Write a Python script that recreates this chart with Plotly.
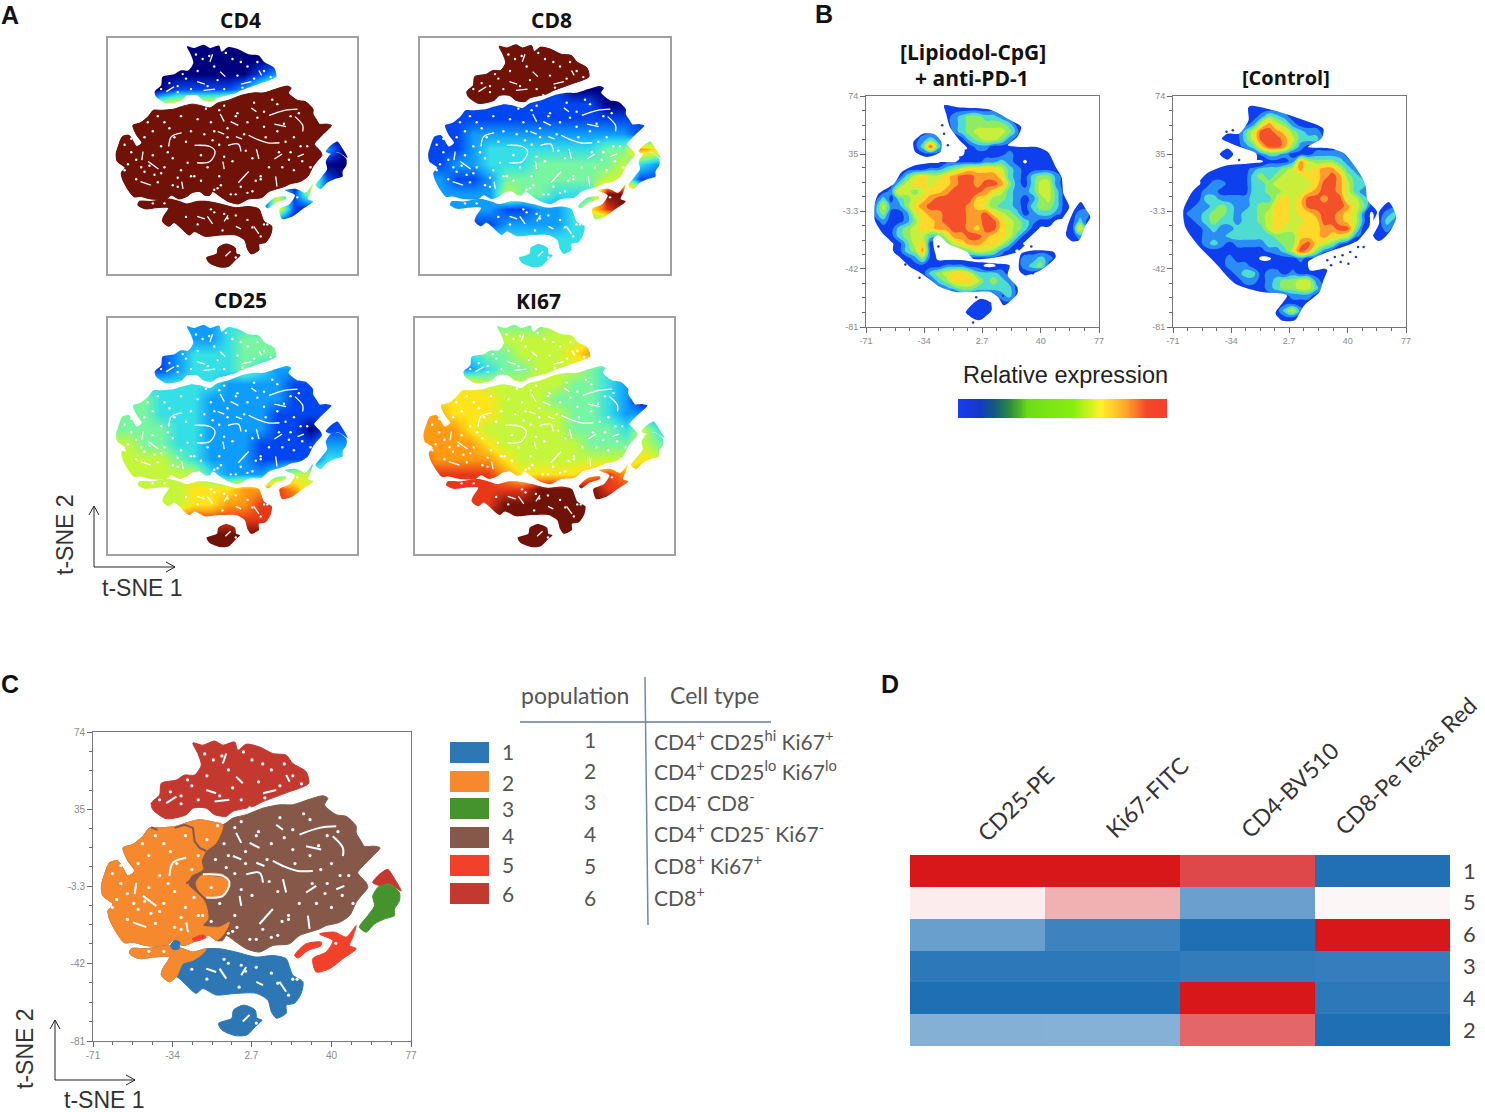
import plotly.graph_objects as go

W, H = 1485, 1112

# ---------- t-SNE cluster outlines (t-SNE 1 / t-SNE 2 units) ----------
top_x = [-24.5,-19.9,-14.4,-10.6,-5.1,-3.6,0.3,6.5,12.7,18.9,22,28.2,29.4,25.1,20.5,14.3,8.1,3.4,-5.9,-9,-14.4,-18.3,-24.5,-27.6,-36.9,-43.1,-43.9,-40,-39.2,-32.2,-28.4,-23.7,-20.6,-22.2]
top_y = [68.5,67.4,69.5,67.4,69,64.9,67.9,66.5,63.2,62.4,58.2,54.1,48.3,45.8,44.1,41.6,39.1,36.6,34.2,31.7,32.5,35.8,35.8,32.5,30.5,35,38.3,42.5,48.3,49.9,52.4,52.4,57.4,63.2]
body_x = [-5.9,0.3,8.1,15.8,22,29,36,38.3,36.7,42.2,46.8,51.5,51.5,53.8,55.3,60,62.6,58.4,54.6,52.2,56.1,56.9,53.8,51.5,48.4,43.7,37.5,34.4,25.1,20.5,12.7,6.5,0.3,-4.4,-9,-10.6,-13.7,-16.8,-21.4,-24.5,-29.2,-33.8,-36.9,-46.2,-52.4,-56.3,-60.2,-63.3,-64,-61.7,-66.4,-67.1,-65.6,-63.3,-59.4,-54.7,-51.6,-54.7,-57,-52.4,-47.8,-44.7,-40,-32.2,-27.6,-21.4,-16.8,-10.6]
body_y = [30.8,32.5,35.8,37.5,37.5,40,42,40.8,37.5,32.5,31.7,26.7,23.4,19.2,16.7,16.7,15.9,10.9,6.7,3.4,-1.5,-4,-8.2,-11.5,-18.1,-21.5,-23.1,-24.8,-28.1,-32.2,-33.1,-36.4,-34.7,-31.4,-28.1,-30.6,-30.6,-28.1,-28.9,-31.4,-33.1,-30.6,-33.1,-33.1,-31.4,-31.7,-26.4,-19.8,-15.6,-12.3,-8.2,-3.2,2.6,8.4,9.3,1.8,4.3,9.3,15.9,17.6,21.7,25.9,25.9,26.7,28.4,30,29.2,27.5]
lower_x = [-53.2,-46.2,-35.4,-29.2,-24.5,-18.3,-12.1,-4.4,5,12.7,18.9,20.5,22,26.7,25.9,22.8,18.9,18.9,14.3,12,10.4,5,-4.4,-13.7,-19.9,-23,-29.2,-32.2,-35.4,-39.2,-38.5,-35.4,-43.1,-49.3,-54]
lower_y = [-34.7,-34.7,-33.1,-34.7,-36.4,-34.7,-34.7,-36.4,-38.9,-38.1,-39.7,-43.9,-48,-51.3,-57.1,-62.1,-63,-67.1,-69.6,-66.3,-60.5,-57.1,-57.1,-57.9,-54.7,-57.1,-51.3,-48.8,-51.3,-48,-44.7,-38.9,-38.9,-39.7,-37.2]
blob_x = [-0.9,4.5,5.3,7.6,4.5,0.6,-4.8,-11,-12.6,-6.4,-5.6]
blob_y = [-63,-65.5,-69.6,-70.5,-73.8,-78,-78.3,-75.5,-72.2,-69.6,-65.5]
wisp_a_x = [22.8,28.2,35.2,35.2,29,24.3]
wisp_a_y = [-38,-32.2,-31.4,-33.1,-35.6,-39.4]
wisp_b_x = [34.4,41.4,46.8,49.1,51.5,49.9,48.4,51.5,45.3,39.1,32.9,31.3,37.5,40.6]
wisp_b_y = [-27.3,-26.4,-28.9,-26.4,-23.1,-28.9,-33.1,-34.7,-39.7,-44.7,-46.4,-39.7,-36.4,-30.6]
lobe_x = [62.3,66.9,71.6,71.6,69.3,69.3,64.6,60,56.1,53,56.9,60,59.2]
lobe_y = [-3.2,-2.4,-6.5,-10.7,-14.8,-18.1,-19.8,-22.3,-26.4,-23.9,-18.1,-13.2,-8.2]
cap_x = [59.2,62.3,66.2,68.5,72.4,66.9,62.3]
cap_y = [-1.5,2.6,5.1,1.8,-5.7,-2.1,-3]

# panel C sub-regions
orange_x = [-10.6,-13.7,-18.3,-20.6,-19.9,-25.3,-26.8,-23,-19.9,-18.3,-17.5,-19.9,-12.1,-7.5,-10.6,-13.7,-16.8,-21.4,-24.5,-29.2,-33.8,-36.9,-46.2,-52.4,-56.3,-60.2,-63.3,-64,-61.7,-66.4,-67.1,-65.6,-63.3,-59.4,-54.7,-51.6,-54.7,-57,-52.4,-47.8,-44.7,-40,-32.2,-27.6,-21.4,-16.8]
orange_y = [27.5,18.4,14.3,9.3,5.1,1.8,-2.4,-6.5,-9.8,-13.2,-19.8,-23.1,-23.9,-21.5,-28.1,-30.6,-28.1,-28.9,-31.4,-33.1,-30.6,-33.1,-33.1,-31.4,-31.7,-26.4,-19.8,-15.6,-12.3,-8.2,-3.2,2.6,8.4,9.3,1.8,4.3,9.3,15.9,17.6,21.7,25.9,25.9,26.7,28.4,30,29.2]
ring_x = [-19.9,-10.6,-7.5,-10.6,-18.3,-22.2,-23]
ring_y = [2.6,2.6,-1.5,-8.2,-9,-4.9,-1.5]
orange_low_x = [-53.2,-46.2,-35.4,-29.2,-24.5,-18.3,-19.9,-24.5,-29.2,-32.2,-35.4,-39.2,-38.5,-35.4,-43.1,-49.3,-54]
orange_low_y = [-34.7,-34.7,-33.1,-34.7,-36.4,-34.7,-37.2,-40.5,-42.2,-48.8,-51.3,-48,-44.7,-38.9,-38.9,-39.7,-37.2]
blue_dot_x = [-33,-30.7,-31,-33.8,-34.9]
blue_dot_y = [-30.6,-31.4,-34.7,-35,-33.1]
red_dot_x = [-24.8,-19.9,-18.3,-23.7]
red_dot_y = [-29.8,-27.8,-29,-31]
brown_strand_x = [-44,-41,None,-33,-28.4,-24.5,-23.7,-21.4,-18.3,None,-27.6,-21.4,-9]
brown_strand_y = [26.2,24.9,None,25.9,27.5,25.9,19.2,15.9,14.3,None,-2,3,1.5]

# white cracks and specks between the cells
crack_x = [12.7,17.4,24.3,31.3,None,25.1,34.4,42.2,None,40.6,45.3,45.3,None,14.3,17.4,None,28.2,35.2,None,6.5,12.7,None,-4.4,-2,None,1.9,6.5,None,-5.9,-2,None,5,8.8,None,0.3,6.5,8.1,None,-2.8,-2,None,17.4,18.9,None,28.2,32.9,None,42.2,46,None,29,29.8,None,-27.6,-33.8,-35.4,None,-50.9,-51.6,None,-47.8,-41.6,None,-27.6,-26.8,None,-52.4,-46.2,None,-14.4,-7.5,None,-4.4,-1.3,None,-18.3,-13.7,None,-32.2,-36.9,None,8.1,14.3,None,18.9,20.5,None,-9,-10.6,None,-12.1,-9,None,5,8.1,None,15.8,18.9,None,1.9,-1.3,None,-18.3,-13.7,None,0.3,-2,None,-19.9,-10.6,-7.5,-10.6,-18.3]
crack_y = [9.3,6.8,4.3,4.3,None,22.5,25.9,26.7,None,21.7,15.9,11.8,None,27.5,25,None,16.7,15.1,None,-22.3,-14.8,None,23.4,18.4,None,18.4,15.9,None,11.8,10.1,None,8.4,6.8,None,2.6,3.4,-1.5,None,-8.2,-13.2,None,0.1,-6.5,None,-6.5,-3.2,None,-4.9,-3.2,None,-18.1,-24.8,None,10.9,8.4,1.8,None,-1.5,-7.3,None,-8.2,-13.2,None,-21.5,-26.4,None,-21.5,-23.9,None,39.1,40,None,51.6,48.3,None,44.9,43.3,None,41.6,38.3,None,43.3,44.9,None,52.4,49.1,None,63.2,58.2,None,-44.7,-49.7,None,-51.3,-53,None,-51.3,-56.3,None,-67.9,-71.2,None,-44.7,-46.4,None,-43.9,-48,None,2.6,1.8,-1.5,-8.2,-9]
speck_x = [-15,-8,3,12,22,-25,-18,-6,6,16,-35,-30,-22,-2,2,-5,5,12,22,30,38,30,22,10,0,-10,-18,-28,-38,-45,-35,-25,-40,-50,-58,-60,-45,-33,-28,-38,-50,-55,-42,-33,-22,-12,-5,3,8,15,20,25,33,40,45,38,48,35,5,15,-5,-2,40,-14,-6,-25,-18,-8,-3,5,12,20,22,-45,-38,5,10,
           -19,-11,-1,8,18,-30,-12,9,-40,-27,26,-13,-2,16,27,43,34,18,6,-8,-22,-32,-42,-48,-58,-62,-55,-47,-36,-24,-16,-9,0,11,23,31,37,44,50,-62,-44,-30,-20,-8,2,17,28,42,-52,-40,-16,-4,12,20,-30,-10,0,15,24,-2]
speck_y = [60,55,60,55,52,47,52,46,49,47,44,38,40,40,36,26,22,18,25,30,22,12,15,10,14,18,20,22,18,12,14,5,2,8,-2,-10,-4,-6,-14,-12,-15,-20,-22,-24,-18,-12,-18,-8,-25,-6,-18,-12,-12,-14,-8,-2,2,5,-30,-28,3,-5,8,10,-26,-45,-50,-42,-54,-44,-47,-58,-50,-36,-36,-72,-68,
           63,62,64,58,58,42,42,41,40,50,48,27,29,31,33,24,17,21,24,12,12,8,22,18,7,3,-7,-11,-2,-9,-4,6,8,-1,8,-2,-7,2,-12,-14,-17,-19,-18,-27,-30,-21,-29,-32,-12,-16,-21,-24,-29,-20,-25,-40,-46,-52,-50,-43,-55,-60]

# ---------- panel A expression levels (0 = lowest, 9 = highest) on a coarse grid ----------
grid_x = [-70,-60,-50,-40,-30,-20,-10,0,10,20,30,40,50,60,70]
grid_y = [70,60,50,40,30,20,10,0,-10,-20,-30,-40,-50,-60,-70,-80]
cd4_rows = ["000000000000000","000000000000000","000000000120000","000011112460000","000566677800000","000000000000000","000000000000000","000000000000020","000000000000400","000000000000510","000000000051510","000000000061000","000000000000000","000000000000000","000000000000000","000000000000000"]
cd8_rows = ["111111111111111","111111111111111","111111111111111","111111111000111","111111111110011","111111111111111","111222222222211","111233333334476","112233344444532","221124444445511","222225443339971","222221122368911","111112222333333","333333333333333","333333333333333","333333333333333"]
cd25_rows = ["222222233334444","222222234444444","111123334444444","111123334322222","333333322221111","444333222221111","444333222211111","444433222211011","554433222111122","555543222111133","555555322235544","555556667787544","555556677888888","888888888888888","999999999999999","999999999999999"]
ki67_rows = ["444444445555555","444445555566677","333344555677777","222234455543333","666655555443222","666665554443200","776665555443222","777655555444353","777765555544454","877776555555565","888887666678777","888888899998888","888889999999999","999999999999999","999999999999999","999999999999999"]

# ---------- panel B density levels and outlines ----------
dens_x = [-70,-65,-60,-55,-50,-45,-40,-35,-30,-25,-20,-15,-10,-5,0,5,10,15,20,25,30,35,40,45,50,55,60,65,70,75]
dens_y = [70,65,60,55,50,45,40,35,30,25,20,15,10,5,0,-5,-10,-15,-20,-25,-30,-35,-40,-45,-50,-55,-60,-65,-70,-75,-80]
lipiodol_rows = ["",
 "00000000001111111","0000000000123443321","00000000001234444431","00000001110234555542","00000012321013455421",
 "00000013831001221111111","000000011100011111211111","0000000000111112232101111","00000111223456666532111111",
 "00001356556788777632134421","00013566566788788742135521","01126545667888876532235531","01313456788888664432124531",
 "02522467888887654332134431011","02411256778887786543123321122","012112466788877886543211"+"00"+"131",
 "0011345667788768865431"+"0000"+"161","000134553357788766531"+"00000"+"121","00001356113567766531"+"0000000"+"1",
 "00001347101234554210"+"11111","00000124100001111101"+"22321","000000111122211001112341","0000000134566533321111",
 "00000000134666534321","00000000012344333331","00000000000011111231","0000000000000111011","0000000000000111","000000000000001",""]
control_rows = ["",
 "00000000001111111","000000000012432111","00000000012575421111","00000011135887643221","00000011135888753331",
 "00000011123688742111111","000000110012332111222211","0000000000001112754443211","00000111112333457567753211",
 "00001111113434555667874321","000012211133455555688753311","00012211113344555678875321","001133222233356568878855321",
 "0112234322344665688888754"+"1011","012234432334566566788765"+"20123","011234332334566556688765"+"20132",
 "0011232233335655666778841"+"0121","0011222333333444666766521"+"011","00012321222233447865421",
 "000011111111223587421","0000011211100111211","0000001222111111111","00000011233122121111",
 "00000001122123445521","00000000011123445531","0000000000011112221","0000000000000011111",
 "000000000000013521","00000000000000111",""]
lip_main_x = [-21.4,-11.6,8,19,27.5,25.1,19,27.5,37.3,44.6,49.5,53.2,54.4,58.1,54.4,49.5,37.3,30,25.1,12.9,-3,-6.7,-18.9,-25,-28.2,-27.5,-25,-11.6,-0.6,12.9,20.2,19,25.1,25.1,16.5,12.9,8,-4.3,-14,-23.8,-31.1,-37.3,-48.3,-55.6,-60.5,-65.4,-65.4,-62.9,-53.2,-48.3,-39.7,-23.8,-14,-11.6,-12.8,-6.7,-11.6,-17.7,-20.1]
lip_main_y = [67.7,66.2,64.8,58.8,53.2,46.5,40.9,39.8,39.8,36.4,26.4,19.6,8.5,-0.5,-7.2,-13.9,-20.6,-26.2,-30.7,-34,-35.2,-30.7,-25.1,-19.5,-21.7,-29.6,-35.2,-35.8,-37.4,-38.5,-39.6,-46.4,-54.2,-58.7,-66.5,-60.9,-57.5,-57.5,-57.5,-54.2,-48.6,-44.1,-37.4,-27.3,-18.4,-9.4,1.8,8.5,15.2,23,27.5,29.7,29.7,32,36.4,38.7,44.3,53.2,62.1]
lip_round_x = [-34.8,-27.5,-23.1,-23.8,-32.4,-39.7,-40.9]
lip_round_y = [48.7,48.3,43.1,36.4,33.1,36.4,43.1]
lip_lobe_x = [65.4,69.1,71.5,67.9,64.2,55.7,56.9,60.6]
lip_lobe_y = [2.9,-2.7,-7.2,-13.9,-22.9,-22.9,-13.9,-3.8]
lip_low_x = [27.5,34.9,48.3,49.5,39.8,30,26.3]
lip_low_y = [-31.8,-29.6,-30.7,-34,-43,-46.4,-43]
lip_blob_x = [1.9,9.2,8,0.6,-7.9,-4.3]
lip_blob_y = [-62,-65.4,-72,-76.5,-72,-66.5]
ctl_main_x = [-23,-7.2,12.3,24.5,23.3,14.8,29.4,37.9,47.7,51.3,52.6,58.6,55,46.5,36.7,24.5,14.8,16,27,24.5,22.1,12.3,6.3,-2.3,-5.9,1.4,-14.5,-31.5,-43.7,-55.9,-63.2,-64.4,-58.3,-49.8,-36.4,-24.2,-18.1,-18.1,-31.5,-40,-36.4,-29.1,-23]
ctl_main_y = [67.1,64.4,57.7,52.1,45.4,39.8,38.7,35.3,21.9,14,4,-3.8,-11.6,-22.9,-27.3,-31.8,-37.4,-43,-41.9,-49.7,-57.5,-66.5,-76.5,-76.5,-71.8,-59.8,-57.5,-51.9,-38.5,-25.1,-13.9,-2.7,10.7,21.9,27.5,28.6,29.7,35.3,40.9,45.4,48.7,48.7,57.7]
ctl_blob_x = [-36.4,-32.7,-36.4,-41.3]
ctl_blob_y = [38.7,34.9,31.3,34.9]
ctl_lobe_x = [66,70.8,67.2,61.1,55,59.9,59.9]
ctl_lobe_y = [2.9,-7.2,-16.2,-22.9,-22.9,-11.6,-3.8]
ctl_speck_x = [27,31.8,36.7,41.6,46.5,29.4,35.5,40.4,45.2,50.1,-37,-33,-29,-45]
ctl_speck_y = [-36.2,-34,-32.9,-30.7,-27.3,-39.6,-37.4,-38.5,-34,-27.3,50,51,31,22]
lip_speck_x = [-22.6,-21.4,-19,-6,-3,-1,16,31,34,35,-25,-37,-46]
lip_speck_y = [54.3,48.7,41,-72,-78,-61,-60,-32,-27,-45,-27,-48,-39]

# ---------- panel C / B axes ----------
tsne_ticks_x = [-71,-34,2.7,40,77]
tsne_ticks_y = [-81,-42,-3.3,35,74]
tsne_minor_x = [-61.75,-52.5,-43.25,-24.75,-15.5,-6.55,12,21.3,30.7,49.25,58.5,67.75]
tsne_minor_y = [-71.25,-61.5,-51.75,-32.25,-22.7,-13,6.3,16,25.7,44.75,54.5,64.25]

# ---------- panel C legend and table ----------
population_ids = ["1","2","3","4","5","6"]
population_colors = ["#2c77b4","#f6882e","#45932d","#85584a","#f2412b","#c3392f"]
cell_types = ["CD4<sup>+</sup> CD25<sup>hi</sup> Ki67<sup>+</sup>","CD4<sup>+</sup> CD25<sup>lo</sup> Ki67<sup>lo</sup>","CD4<sup>-</sup> CD8<sup>-</sup>","CD4<sup>+</sup> CD25<sup>-</sup> Ki67<sup>-</sup>","CD8<sup>+</sup> Ki67<sup>+</sup>","CD8<sup>+</sup>"]

# ---------- panel D heatmap ----------
markers = ["CD25-PE","Ki67-FITC","CD4-BV510","CD8-Pe Texas Red"]
row_labels = ["1","5","6","3","4","2"]
heat_z = [[1,1,0.79,-0.99],[0.08,0.34,-0.66,0.04],[-0.67,-0.86,-1,1],[-0.94,-0.94,-0.91,-0.9],[-1,-1,1,-0.94],[-0.55,-0.54,0.66,-1]]
ramp_vals = [list(range(0,101))]

JET = [[0,"#00007f"],[1/9,"#0046f0"],[2/9,"#0f9cff"],[3/9,"#35dfe6"],[4/9,"#78f5a0"],[5/9,"#c4f73c"],[6/9,"#ffe41a"],[7/9,"#ff9a12"],[8/9,"#e8381a"],[1,"#701208"]]
DENS = [[0,"#ffffff"],[1/9,"#0d3fef"],[2/9,"#0d3fef"],[3/9,"#2a8df4"],[4/9,"#4edcd2"],[5/9,"#8feb62"],[6/9,"#c9ee3c"],[7/9,"#ffd92a"],[8/9,"#ff9a2c"],[1,"#f4512a"]]
RAMP = [[0,"#1a3cf2"],[0.1,"#1438c8"],[0.17,"#145a80"],[0.25,"#2e8c3c"],[0.33,"#6fdc18"],[0.55,"#88ee10"],[0.68,"#fff22a"],[0.8,"#fda72c"],[0.9,"#f4472a"],[1,"#f4402a"]]
HEAT = [[0,"#1f6fb4"],[0.5,"#ffffff"],[1,"#d7171a"]]

fig = go.Figure()
layout = {}
ax_n = [0]

def px(x): return x / W
def py(y): return 1 - y / H

def new_axes(box, xr, yr, **kw):
    ax_n[0] += 1
    n = ax_n[0]
    sfx = "" if n == 1 else str(n)
    x0, y0, x1, y1 = box
    line = kw.get("line", "#9a9a9a")
    lw = kw.get("lw", 2)
    common = dict(showgrid=False, zeroline=False, showline=lw > 0, linecolor=line, linewidth=lw, mirror=True, layer="above traces")
    xa = dict(common, domain=[px(x0), px(x1)], range=xr, anchor="y" + sfx, showticklabels=False, ticks="")
    ya = dict(common, domain=[py(y1), py(y0)], range=yr, anchor="x" + sfx, showticklabels=False, ticks="")
    xa.update(kw.get("xa", {}))
    ya.update(kw.get("ya", {}))
    layout["xaxis" + sfx] = xa
    layout["yaxis" + sfx] = ya
    return "x" + sfx, "y" + sfx

def close(xs, ys):
    return list(xs) + [xs[0]], list(ys) + [ys[0]]

SPL = dict(shape="spline", smoothing=0.7)

def poly(xs, ys, color, ax):
    cx, cy = close(xs, ys)
    fig.add_trace(go.Scatter(x=cx, y=cy, mode="lines", fill="toself", fillcolor=color, line=dict(color=color, width=1, **SPL), hoverinfo="skip", showlegend=False, xaxis=ax[0], yaxis=ax[1]))

def digits(rows, width):
    out = []
    for r in rows:
        if len(r) > width:
            raise ValueError(r)
        out.append([int(c) for c in r.ljust(width, "0")])
    return out

outlines = [(top_x, top_y), (body_x, body_y), (lower_x, lower_y), (blob_x, blob_y), (wisp_a_x, wisp_a_y), (wisp_b_x, wisp_b_y), (lobe_x, lobe_y), (cap_x, cap_y)]
lip_outlines = [(lip_main_x, lip_main_y), (lip_round_x, lip_round_y), (lip_lobe_x, lip_lobe_y), (lip_low_x, lip_low_y), (lip_blob_x, lip_blob_y)]
ctl_outlines = [(ctl_main_x, ctl_main_y), (ctl_blob_x, ctl_blob_y), (ctl_lobe_x, ctl_lobe_y)]

def mask_trace(ax, shapes_list):
    mx, my = [-95, -95, 95, 95, -95], [95, -95, -95, 95, 95]
    for xs, ys in shapes_list:
        cx, cy = close(xs, ys)
        mx += [None] + cx
        my += [None] + cy
    fig.add_trace(go.Scatter(x=mx, y=my, mode="lines", fill="toself", fillcolor="#ffffff", line=dict(color="rgba(255,255,255,0)", width=0, **SPL), hoverinfo="skip", showlegend=False, xaxis=ax[0], yaxis=ax[1]))

def texture(ax, cw, ms):
    fig.add_trace(go.Scatter(x=crack_x, y=crack_y, mode="lines", line=dict(color="#ffffff", width=cw, shape="spline"), hoverinfo="skip", showlegend=False, xaxis=ax[0], yaxis=ax[1]))
    fig.add_trace(go.Scatter(x=speck_x, y=speck_y, mode="markers", marker=dict(color="#ffffff", size=ms, line=dict(width=0)), hoverinfo="skip", showlegend=False, xaxis=ax[0], yaxis=ax[1]))

DARK = "#701208"
panels_a = [
    ((108, 38, 357, 274), cd4_rows, [(body_x, body_y), (lower_x, lower_y), (blob_x, blob_y)]),
    ((420, 38, 670, 274), cd8_rows, [(top_x, top_y)]),
    ((108, 318, 357, 554), cd25_rows, []),
    ((415, 318, 674, 554), ki67_rows, []),
]
for box, rows, solids in panels_a:
    ax = new_axes(box, [-72, 78], [-83, 74], line="#a0a0a0")
    fig.add_trace(go.Heatmap(x=grid_x, y=grid_y, z=digits(rows, 15), zmin=0, zmax=9, colorscale=JET, zsmooth="best", showscale=False, hoverinfo="skip", xaxis=ax[0], yaxis=ax[1]))
    mask_trace(ax, outlines)
    for xs, ys in solids:
        poly(xs, ys, DARK, ax)
    texture(ax, 1.3, 2.4)

# panel B
tick_font = dict(family="Liberation Sans", size=9, color="#8a8a8a")
def tsne_axes(box, font):
    xa = dict(tickmode="array", tickvals=tsne_ticks_x, ticktext=["-71","-34","2.7","40","77"], ticks="outside", ticklen=5, tickcolor="#666", showticklabels=True, tickfont=font,
              minor=dict(tickmode="array", tickvals=tsne_minor_x, ticks="outside", ticklen=3, tickcolor="#666"))
    ya = dict(tickmode="array", tickvals=tsne_ticks_y, ticktext=["-81","-42","-3.3","35","74"], ticks="outside", ticklen=5, tickcolor="#666", showticklabels=True, tickfont=font,
              minor=dict(tickmode="array", tickvals=tsne_minor_y, ticks="outside", ticklen=3, tickcolor="#666"))
    return new_axes(box, [-71, 77], [-81, 74], line="#777777", lw=1, xa=xa, ya=ya)

for box, rows, shapes_list, sx, sy in [((866, 96, 1099, 327), lipiodol_rows, lip_outlines, lip_speck_x, lip_speck_y),
                                       ((1173, 96, 1406, 327), control_rows, ctl_outlines, ctl_speck_x, ctl_speck_y)]:
    ax = tsne_axes(box, tick_font)
    # digit 0 stays white; raising the other digits by one pulls the outer rim out to the outline mask
    z = [[d + 1 if d > 0 else 0 for d in r] for r in digits(rows, 30)]
    fig.add_trace(go.Contour(x=dens_x, y=dens_y, z=z, zmin=0, zmax=9, colorscale=DENS, autocontour=False,
                             contours=dict(start=0.5, end=8.5, size=1, coloring="fill", showlines=False), line=dict(width=0, smoothing=1.3),
                             showscale=False, hoverinfo="skip", xaxis=ax[0], yaxis=ax[1]))
    mask_trace(ax, shapes_list)
    fig.add_trace(go.Scatter(x=sx, y=sy, mode="markers", marker=dict(color="#1a3cc0", size=2.5, line=dict(width=0)), hoverinfo="skip", showlegend=False, xaxis=ax[0], yaxis=ax[1]))

# colour ramp
ax = new_axes((958, 399, 1167, 418), [0, 100], [0, 1], lw=0)
fig.add_trace(go.Heatmap(z=ramp_vals, x=list(range(0, 101)), y=[0.5], zmin=0, zmax=100, colorscale=RAMP, zsmooth="best", showscale=False, hoverinfo="skip", xaxis=ax[0], yaxis=ax[1]))

# panel C
ax = tsne_axes((93, 732, 411, 1041), dict(family="Liberation Sans", size=10, color="#8a8a8a"))
poly(top_x, top_y, population_colors[5], ax)
poly(body_x, body_y, population_colors[3], ax)
poly(orange_x, orange_y, population_colors[1], ax)
poly(ring_x, ring_y, population_colors[1], ax)
fig.add_trace(go.Scatter(x=brown_strand_x, y=brown_strand_y, mode="lines", line=dict(color=population_colors[3], width=2), hoverinfo="skip", showlegend=False, xaxis=ax[0], yaxis=ax[1]))
poly(lower_x, lower_y, population_colors[0], ax)
poly(orange_low_x, orange_low_y, population_colors[1], ax)
poly(blob_x, blob_y, population_colors[0], ax)
poly(blue_dot_x, blue_dot_y, population_colors[0], ax)
poly(red_dot_x, red_dot_y, population_colors[4], ax)
poly(wisp_a_x, wisp_a_y, population_colors[4], ax)
poly(wisp_b_x, wisp_b_y, population_colors[4], ax)
poly(cap_x, cap_y, population_colors[5], ax)
poly(lobe_x, lobe_y, population_colors[2], ax)
texture(ax, 2.0, 3.2)

# panel D
ax = new_axes((910, 855, 1450, 1046), [-0.5, 3.5], [5.5, -0.5], lw=0,
              ya=dict(tickmode="array", tickvals=list(range(6)), ticktext=row_labels, showticklabels=True, side="right", ticks="", ticklen=0, ticklabelstandoff=12, tickfont=dict(family="Lato", size=22, color="#444")))
fig.add_trace(go.Heatmap(z=heat_z, zmin=-1, zmax=1, colorscale=HEAT, showscale=False, hoverinfo="skip", xaxis=ax[0], yaxis=ax[1]))

# ---------- text ----------
ann = []
def text(x, y, s, size, family="Liberation Sans", color="#111", bold=False, angle=0, anchor="center"):
    ann.append(dict(x=px(x), y=py(y), xref="paper", yref="paper", text=f"<b>{s}</b>" if bold else s, showarrow=False, xanchor=anchor, yanchor="middle",
                    textangle=angle, font=dict(family=family, size=size, color=color)))

for s, x, y in [("A", 10, 15), ("B", 824, 14), ("C", 10, 684), ("D", 890, 684)]:
    text(x, y, s, 25, bold=True)
for s, x, y in [("CD4", 240, 20), ("CD8", 551, 20), ("CD25", 240, 300), ("KI67", 538, 301)]:
    text(x, y, s, 21, family="Open Sans", bold=True)
text(973, 52, "[Lipiodol-CpG]", 21, family="Open Sans", bold=True)
text(972, 78, "+ anti-PD-1", 21, family="Open Sans", bold=True)
text(1286, 77, "[Control]", 20, family="Open Sans", bold=True)
text(1065, 375, "Relative expression", 23.5, color="#222")
text(65, 535, "t-SNE 2", 23, color="#333", angle=-90)
text(142, 588, "t-SNE 1", 23, color="#333")
text(25, 1049, "t-SNE 2", 23, color="#333", angle=-90)
text(104, 1100, "t-SNE 1", 23, color="#333")

TAB = "Lato"
TC = "#555"
text(575, 695, "population", 23, family=TAB, color=TC)
text(714, 695, "Cell type", 23, family=TAB, color=TC)
pop_y = [739, 770, 801, 833, 865, 897]
cell_y = [740, 770, 801, 832, 864, 896]
leg_y = [751, 782, 808, 835, 864, 893]
sw_y = [742, 771, 798, 827, 855, 883]
shapes = []
for i, p in enumerate(population_ids):
    text(590, pop_y[i], p, 21, family=TAB, color=TC)
    text(652, cell_y[i], cell_types[i], 21, family=TAB, color=TC, anchor="left")
    text(508, leg_y[i], p, 21, family=TAB, color=TC)
    shapes.append(dict(type="rect", xref="paper", yref="paper", x0=px(450), x1=px(489), y0=py(sw_y[i]), y1=py(sw_y[i] + 21), fillcolor=population_colors[i], line=dict(width=0)))

for s, x, y in zip(markers, [1015, 1147, 1289, 1405], [804, 797, 790, 766]):
    text(x, y, s, 23, family=TAB, color="#333", angle=-44)

def seg(pts, color, width):
    d = "M " + " L ".join(f"{px(a):.5f},{py(b):.5f}" for a, b in pts)
    shapes.append(dict(type="path", xref="paper", yref="paper", path=d, line=dict(color=color, width=width), fillcolor="rgba(0,0,0,0)"))

seg([(520, 722), (771, 722)], "#5f7f9e", 1.5)
seg([(645, 677), (648, 925)], "#6f8ba3", 1.5)
for cx, cy, up, rt in [(94, 567, 506, 175), (55, 1080, 1020, 135)]:
    seg([(rt, cy), (cx, cy), (cx, up)], "#222", 1)
    seg([(cx - 5, up + 9), (cx, up), (cx + 5, up + 9)], "#222", 1)
    seg([(rt - 9, cy - 5), (rt, cy), (rt - 9, cy + 5)], "#222", 1)

fig.update_layout(width=W, height=H, margin=dict(l=0, r=0, t=0, b=0, pad=0, autoexpand=False), paper_bgcolor="#ffffff", plot_bgcolor="rgba(255,255,255,0)",
                  showlegend=False, annotations=ann, shapes=shapes, **layout)
fig.write_html("out.html", config={"displayModeBar": False}, post_script="document.body.style.margin='0';")
